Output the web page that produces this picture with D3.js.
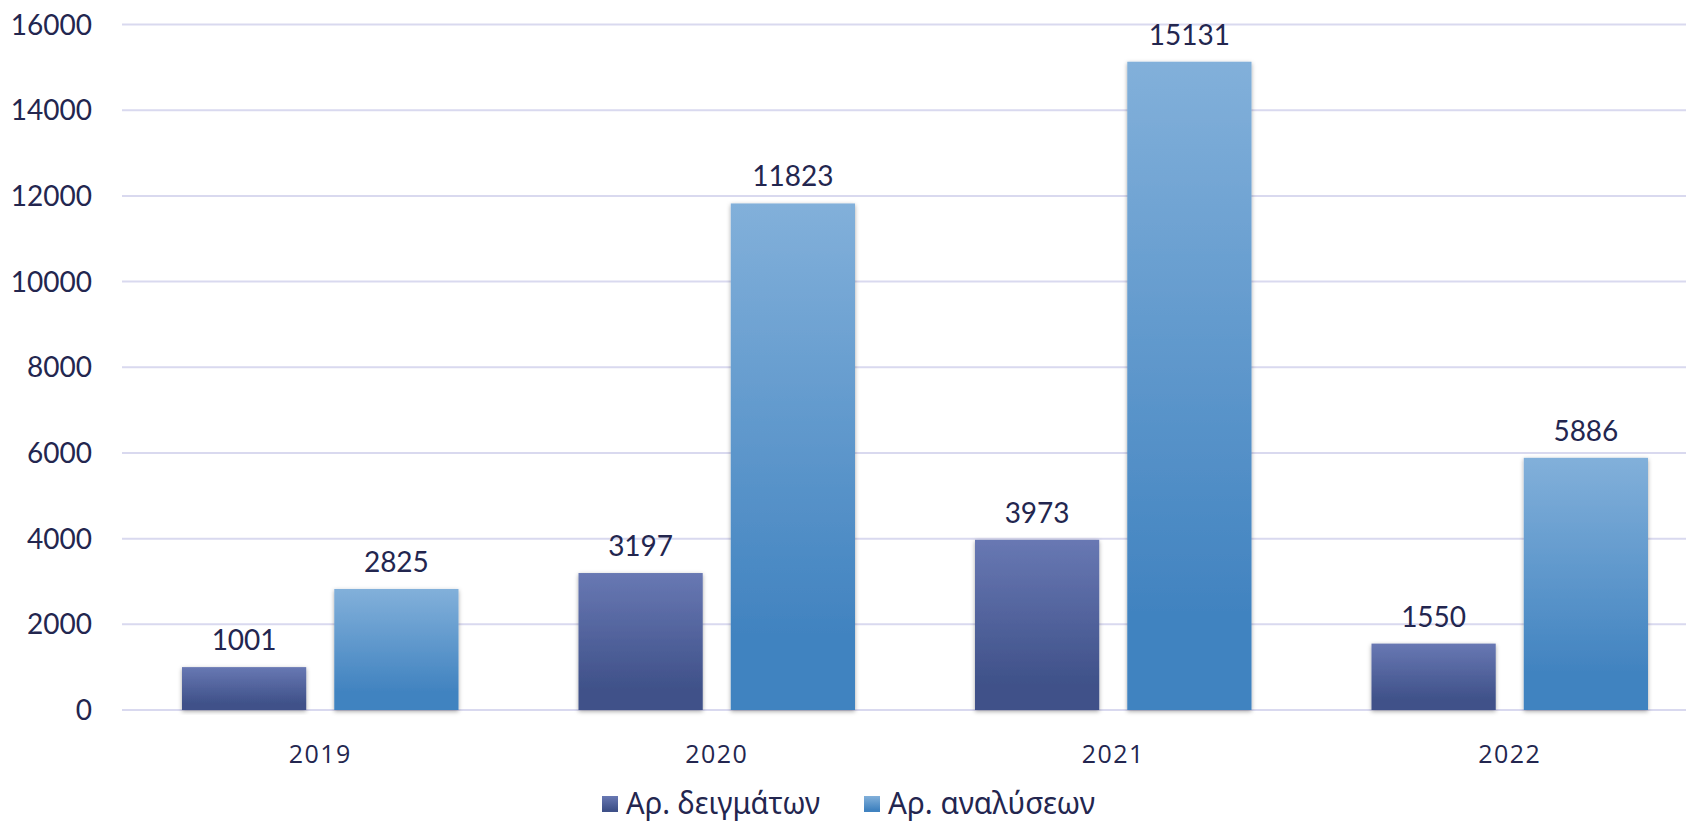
<!DOCTYPE html>
<html><head><meta charset="utf-8">
<script src="https://cdn.jsdelivr.net/npm/d3@7"></script>
<style>body{margin:0;background:#fff}svg{display:block}</style>
</head><body>
<svg id="chart" width="1686" height="822"></svg>
<script>
const years = ["2019","2020","2021","2022"];
const seriesNames = ["Αρ. δειγμάτων","Αρ. αναλύσεων"];
const samples = [1001,3197,3973,1550];
const analyses = [2825,11823,15131,5886];
const yTicks = [0,2000,4000,6000,8000,10000,12000,14000,16000];

const W=1686,H=822;
const svg=d3.select("#chart");
const textColor="#23264f";
const defs=svg.append("defs");
const grads=[["g0","#6878b3","#3f5189"],["g1","#82b0da","#4183c0"]];
grads.forEach(([id,c1,c2])=>{
  const g=defs.append("linearGradient").attr("id",id).attr("x1",0).attr("y1",0).attr("x2",0).attr("y2",1);
  g.append("stop").attr("offset","0%").attr("stop-color",c1);
  g.append("stop").attr("offset","85%").attr("stop-color",c2);
  g.append("stop").attr("offset","100%").attr("stop-color",c2);
});
const f=defs.append("filter").attr("id","sh").attr("x","-10%").attr("y","-10%").attr("width","120%").attr("height","120%");
f.append("feDropShadow").attr("dx",0).attr("dy",1.5).attr("stdDeviation",2).attr("flood-color","#000").attr("flood-opacity",0.35);

const x=d3.scaleBand().domain(years).range([122,1708]).paddingInner(0).paddingOuter(0);
const y=d3.scaleLinear().domain([0,16000]).range([710,24.5]);
const inner=d3.scaleBand().domain([0,1]).range([60,x.bandwidth()-60]).paddingInner(28/152).paddingOuter(0);

// gridlines
svg.append("g").selectAll("line").data(yTicks).join("line")
  .attr("x1",122).attr("x2",W).attr("y1",d=>y(d)).attr("y2",d=>y(d))
  .attr("stroke","#d9d9ef").attr("stroke-width",2);

// y labels
svg.append("g").selectAll("text").data(yTicks).join("text")
  .attr("x",92).attr("y",d=>y(d)).attr("dy","0.36em").attr("text-anchor","end")
  .attr("font-family","Lato, 'Open Sans', sans-serif").attr("font-size",28).attr("fill",textColor)
  .text(d=>d);

const data=[samples,analyses];
data.forEach((vals,si)=>{
  const g=svg.append("g");
  g.selectAll("rect").data(vals).join("rect")
    .attr("x",(d,i)=>x(years[i])+inner(si)).attr("width",inner.bandwidth())
    .attr("y",d=>y(d)).attr("height",d=>y(0)-y(d))
    .attr("fill",`url(#g${si})`).attr("filter","url(#sh)");
  g.selectAll("text").data(vals).join("text")
    .attr("x",(d,i)=>x(years[i])+inner(si)+inner.bandwidth()/2).attr("y",d=>y(d)-17)
    .attr("text-anchor","middle").attr("font-family","Lato, 'Open Sans', sans-serif")
    .attr("font-size",28).attr("fill",textColor).text(d=>d);
});

// x labels
svg.append("g").selectAll("text").data(years).join("text")
  .attr("x",d=>x(d)+x.bandwidth()/2).attr("y",763).attr("text-anchor","middle")
  .attr("font-family","'Open Sans', sans-serif").attr("font-size",25).attr("fill",textColor)
  .attr("letter-spacing",1.5).text(d=>d);

// legend
const legX=[602,864];
const legW=[194,207];
seriesNames.forEach((n,i)=>{
  svg.append("rect").attr("x",legX[i]).attr("y",796).attr("width",16).attr("height",16).attr("fill",`url(#g${i})`);
  svg.append("text").attr("x",legX[i]+24).attr("y",814).attr("font-family","'Noto Sans', sans-serif")
    .attr("font-size",30).attr("fill",textColor)
    .attr("textLength",legW[i]).attr("lengthAdjust","spacingAndGlyphs").text(n);
});
</script>
</body></html>
